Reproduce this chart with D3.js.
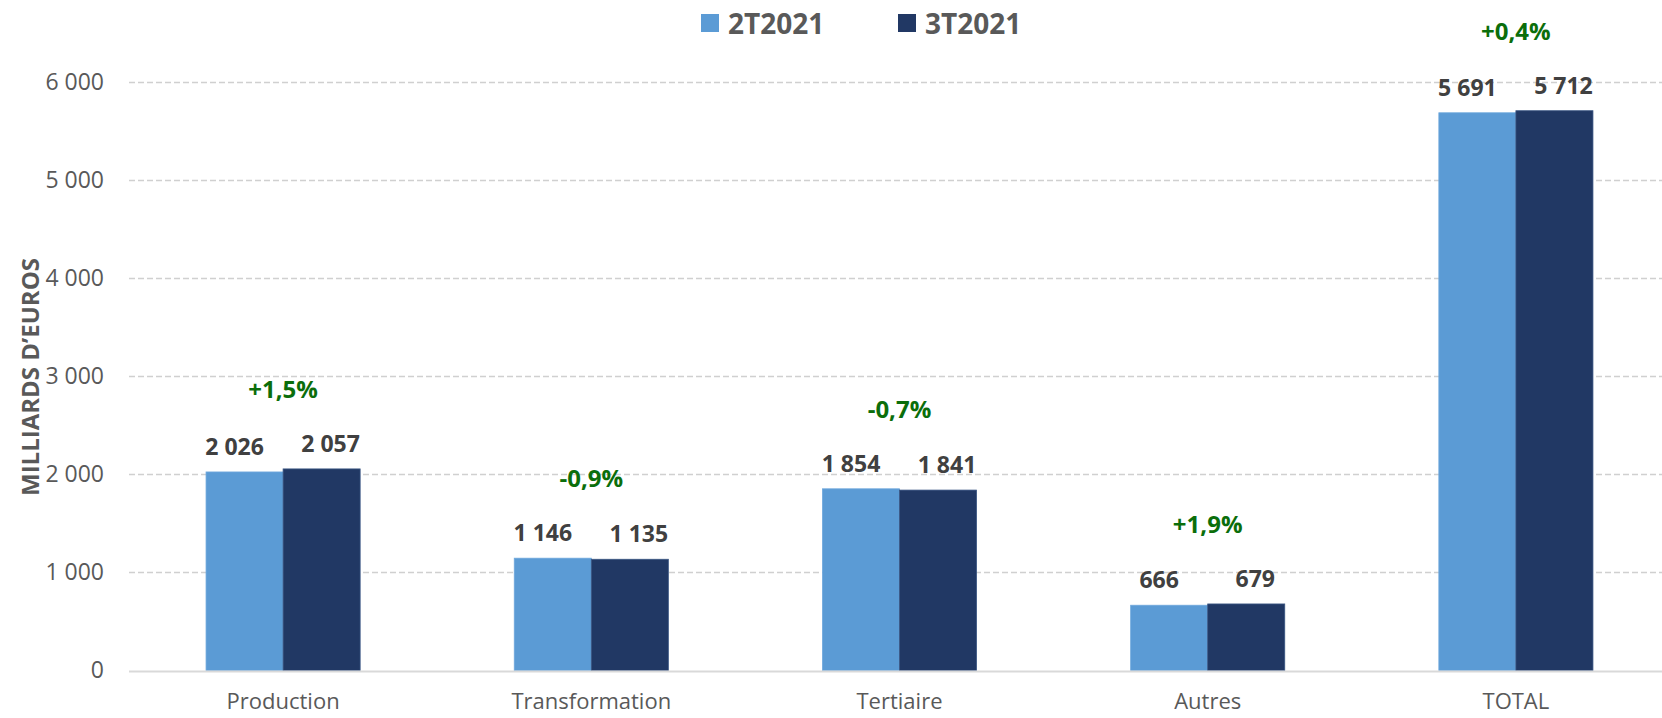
<!DOCTYPE html>
<head>
<meta charset="utf-8">
<style>
body { margin: 0; background: white; }
text { font-family: "Open Sans", sans-serif; }
.grid line { stroke: #d0d0d0; stroke-width: 1.3px; stroke-dasharray: 6,3; }
.val { font-weight: bold; font-size: 23px; fill: #404040; }
.pct { font-weight: bold; font-size: 24px; fill: #0b6e0b; }
</style>
</head>
<body>
<div id="mainDiv" style="width: 1662px; height: 718px; background-color: white;"></div>

<script src="https://d3js.org/d3.v7.min.js"></script>

<script>

var width = 1662;
var height = 718;

// data
var categories = ["Production", "Transformation", "Tertiaire", "Autres", "TOTAL"];
var series = ["2T2021", "3T2021"];
var values2T = [2026, 1146, 1854, 666, 5691];
var values3T = [2057, 1135, 1841, 679, 5712];
var changes = ["+1,5%", "-0,9%", "-0,7%", "+1,9%", "+0,4%"];
var yTicks = [0, 1000, 2000, 3000, 4000, 5000, 6000];

var colors = ["#5b9bd5", "#213864"];

var fr = d3.formatLocale({decimal: ",", thousands: " ", grouping: [3], currency: ["", " €"]});
var fmt = fr.format(",d");

var svg = d3.select("#mainDiv").append("svg")
    .attr("width", width)
    .attr("height", height);

var x = d3.scaleBand()
    .domain(categories)
    .range([129, 1670])
    .paddingInner(0.5)
    .paddingOuter(0.25);

var xSub = d3.scaleBand()
    .domain(series)
    .range([0, x.bandwidth()]);

var y = d3.scaleLinear()
    .domain([0, 6000])
    .range([670.5, 82.5]);

// gridlines
svg.append("g")
    .attr("class", "grid")
    .selectAll("line")
    .data(yTicks.filter(function(d) { return d > 0; }))
    .enter().append("line")
    .attr("x1", 129)
    .attr("x2", 1662)
    .attr("y1", function(d) { return y(d); })
    .attr("y2", function(d) { return y(d); });

// y axis labels
var yAxis = svg.append("g")
    .attr("transform", "translate(104,0)")
    .call(d3.axisLeft(y).tickValues(yTicks).tickFormat(fmt).tickSize(0).tickPadding(0));
yAxis.select(".domain").remove();
yAxis.selectAll("text")
    .style("font-family", "Open Sans, sans-serif")
    .style("font-size", "23px")
    .attr("fill", "#595959");

svg.append("text")
    .attr("transform", "translate(39,377) rotate(-90)")
    .attr("text-anchor", "middle")
    .style("font-weight", "bold")
    .style("font-size", "24px")
    .attr("fill", "#595959")
    .text("MILLIARDS D\u2019EUROS");

// bars
var rows = categories.map(function(c, i) {
  return {cat: c, vals: [values2T[i], values3T[i]], pct: changes[i]};
});

var groups = svg.append("g").selectAll("g")
    .data(rows)
    .enter().append("g")
    .attr("transform", function(d) { return "translate(" + x(d.cat) + ",0)"; });

groups.selectAll("rect")
    .data(function(d) { return d.vals.map(function(v, j) { return {s: series[j], v: v, j: j}; }); })
    .enter().append("rect")
    .attr("x", function(d) { return xSub(d.s); })
    .attr("width", xSub.bandwidth())
    .attr("y", function(d) { return y(d.v); })
    .attr("height", function(d) { return y(0) - y(d.v); })
    .attr("fill", function(d) { return colors[d.j]; })
    .attr("stroke", function(d) { return d.j == 0 ? "#6fa8dc" : "#3a5683"; })
    .attr("stroke-width", 0.8);

// value labels
groups.selectAll("text.val")
    .data(function(d) { return d.vals.map(function(v, j) { return {s: series[j], v: v, j: j}; }); })
    .enter().append("text")
    .attr("class", "val")
    .attr("text-anchor", "middle")
    .attr("x", function(d) { return xSub(d.s) + xSub.bandwidth() / 2 + (d.j == 0 ? -10 : 9); })
    .attr("y", function(d) { return y(d.v) - 17; })
    .text(function(d) { return fmt(d.v); });

// change labels
groups.append("text")
    .attr("class", "pct")
    .attr("text-anchor", "middle")
    .attr("x", x.bandwidth() / 2)
    .attr("y", function(d) { return y(d3.max(d.vals)) - 71; })
    .text(function(d) { return d.pct; });

// baseline
svg.append("line")
    .attr("x1", 129).attr("x2", 1662)
    .attr("y1", y(0) + 1).attr("y2", y(0) + 1)
    .attr("stroke", "#d9d9d9")
    .attr("stroke-width", 2);

// x labels
svg.append("g").selectAll("text")
    .data(categories)
    .enter().append("text")
    .attr("x", function(d) { return x(d) + x.bandwidth() / 2; })
    .attr("y", 709)
    .attr("text-anchor", "middle")
    .style("font-size", "22px")
    .attr("fill", "#595959")
    .text(function(d) { return d; });

// legend
var legendX = [701, 898];
var legend = svg.append("g").selectAll("g")
    .data(series)
    .enter().append("g")
    .attr("transform", function(d, i) { return "translate(" + legendX[i] + ",14)"; });

legend.append("rect")
    .attr("width", 18).attr("height", 18)
    .attr("fill", function(d, i) { return colors[i]; });

legend.append("text")
    .attr("x", 27)
    .attr("y", 19.5)
    .style("font-weight", "bold")
    .style("font-size", "28px")
    .attr("fill", "#595959")
    .text(function(d) { return d; });

</script>
</body>
</html>
